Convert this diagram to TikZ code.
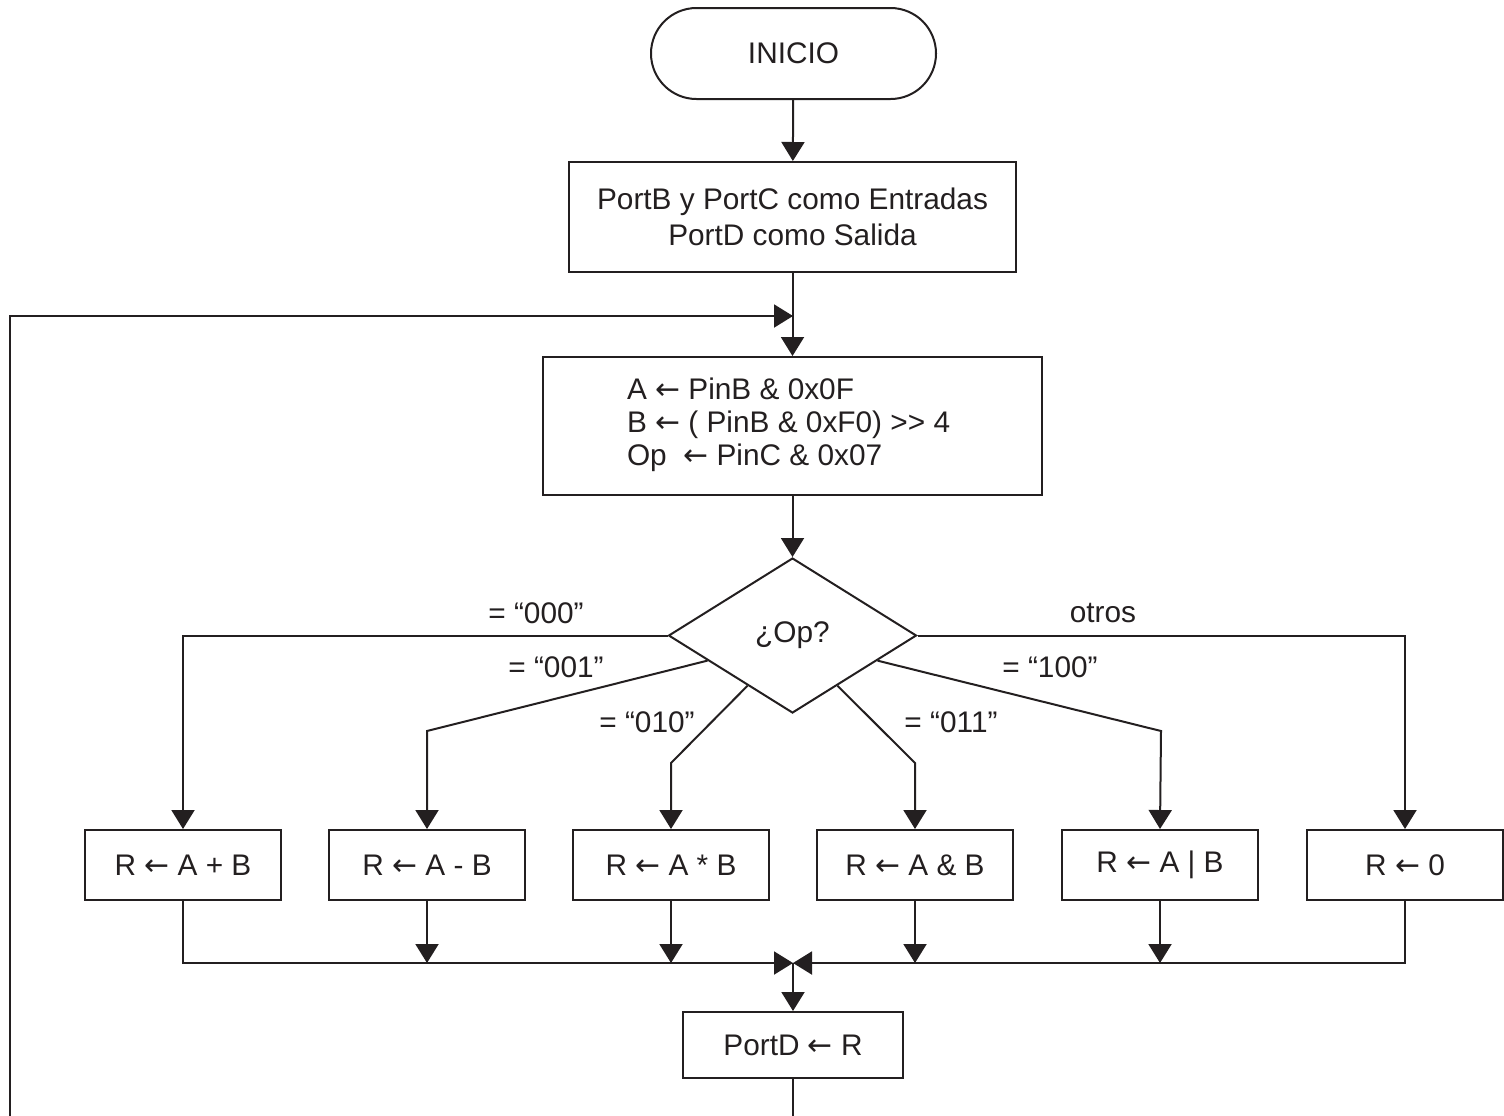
\documentclass[tikz,border=0pt]{standalone}
\usepackage{fontspec}
\setmainfont{Liberation Sans}
\newfontfamily\arrowfont{DejaVu Sans}
\newcommand\assign{{\arrowfont ←}}
\usetikzlibrary{arrows.meta,shapes.geometric,calc}
\definecolor{ink}{RGB}{35,31,32}
\begin{document}
\begin{tikzpicture}[x=0.5pt,y=-0.5pt,
  every node/.style={font=\fontsize{14.9pt}{18pt}\selectfont, text=ink},
  flow/.style={draw=ink, line width=1pt, -{Triangle[length=9.5pt,width=11.5pt]}},
  procbox/.style={draw=ink, line width=1pt, rectangle, inner sep=0pt,
    minimum width=98pt, minimum height=35pt},
  terminal/.style={draw=ink, line width=1pt, rectangle, rounded corners=22.75pt,
    inner sep=0pt, minimum width=142.5pt, minimum height=45.5pt},
  decision/.style={draw=ink, line width=1pt, diamond, aspect=1.6, inner sep=0pt,
    minimum width=124pt, minimum height=77.5pt},
  branchlabel/.style={inner sep=0pt}]
\useasboundingbox (0,0) rectangle (1504,1115);
\clip (0,0) rectangle (1504,1115);

% main column
\node[terminal] (inicio) at (793.5,53.5) {INICIO};
\node[procbox, minimum width=223.5pt, minimum height=55pt, align=center] (conf) at (792.5,217)
  {PortB y PortC como Entradas\\PortD como Salida};
\node[procbox, minimum width=249.5pt, minimum height=69pt,
  font=\fontsize{14.9pt}{16.5pt}\selectfont] (lee) at (792.5,426)
  {\makebox[165.5pt][l]{\begin{tabular}{@{}l@{}}
    A \assign{} PinB \& 0x0F\\
    B \assign{} ( PinB \& 0xF0) {>}{>} 4\\
    Op\ \ \assign{} PinC \& 0x07
  \end{tabular}}};
\node[decision] (op) at (792.5,635.5) {¿Op?};

% one box per operation
\node[procbox] (suma)  at (183,865)  {R \assign{} A + B};
\node[procbox] (resta) at (427,865)  {R \assign{} A - B};
\node[procbox] (mult)  at (671,865)  {R \assign{} A * B};
\node[procbox] (yand)  at (915,865)  {R \assign{} A \& B};
\node[procbox] (yor)   at (1160,865) {R \assign{} A | B};
\node[procbox] (cero)  at (1405,865) {R \assign{} 0};

\coordinate (m) at (793,963);
\coordinate (j) at (793,316);
\node[procbox, minimum width=110pt, minimum height=33pt] (out) at (793,1045) {PortD \assign{} R};

% top connectors
\draw[flow] (inicio) -- (conf);
\draw[flow] (conf) -- (lee);
\draw[flow] (lee) -- (op);

% branches of the switch
\draw[flow] (op.west) -| (suma.north);
\draw[flow] ($(op.west)!0.32!(op.south)$) -- (427,731) -- (resta.north);
\draw[flow] ($(op.west)!0.64!(op.south)$) -- (671,763) -- (mult.north);
\draw[flow] ($(op.east)!0.64!(op.south)$) -- (915,763) -- (yand.north);
\draw[flow] ($(op.east)!0.32!(op.south)$) -- (1161,731) -- (yor.north);
\draw[flow] (op.east) -| (cero.north);

\node[branchlabel] (l000) at (536,613) {= “000”};
\node[branchlabel] (l001) at (556,667) {= “001”};
\node[branchlabel] (l010) at (647,722) {= “010”};
\node[branchlabel] (l011) at (951,722) {= “011”};
\node[branchlabel] (l100) at (1050,667) {= “100”};
\node[branchlabel] (lotr) at (1103,613) {otros};

% merge
\draw[flow] (suma.south) |- (m);
\draw[flow] (cero.south) |- (m);
\draw[flow] (resta.south) -- (resta.south |- m);
\draw[flow] (mult.south) -- (mult.south |- m);
\draw[flow] (yand.south) -- (yand.south |- m);
\draw[flow] (yor.south) -- (yor.south |- m);
\draw[flow] (m) -- (out);

% loop back to the reading step
\draw[flow] (out.south) -- (793,1140) -- (10,1140) -- (10,316) -- (j);
\end{tikzpicture}
\end{document}
